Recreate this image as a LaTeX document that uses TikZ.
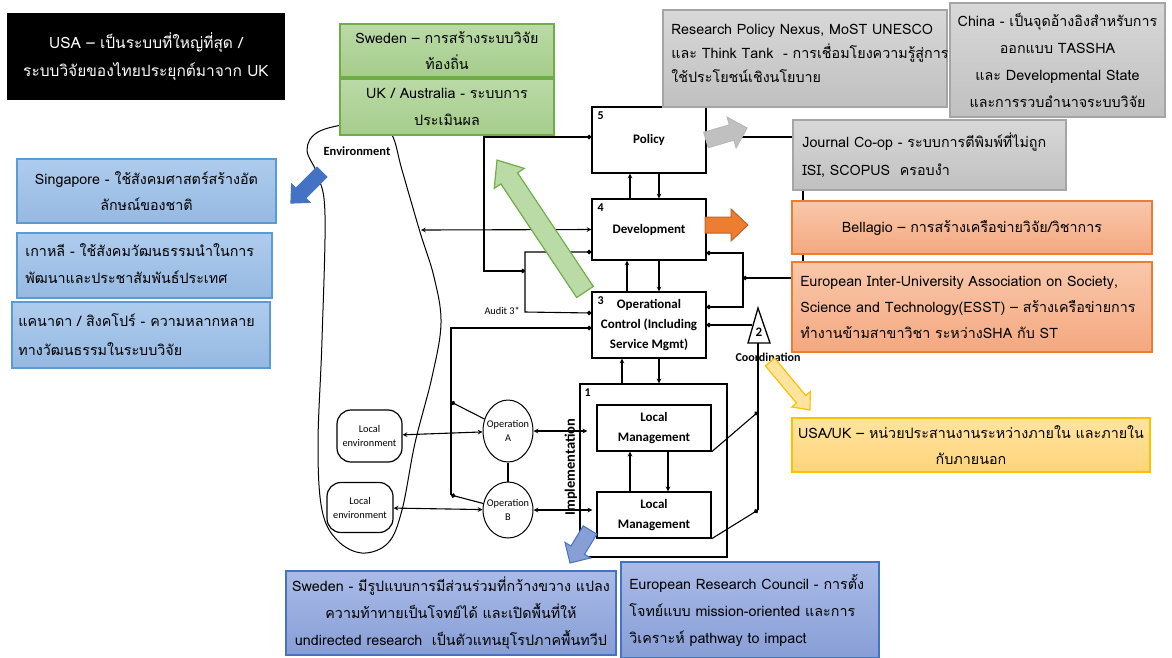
\documentclass[tikz,border=0pt]{standalone}
\usepackage{fontspec}
\newfontfamily\thaifont[Script=Thai]{Loma}
\newfontfamily\calfont{Carlito}
\usetikzlibrary{shapes.geometric,arrows.meta}

\definecolor{grnline}{RGB}{112,173,71}
\definecolor{grntop}{RGB}{186,218,166}
\definecolor{grnbot}{RGB}{166,205,140}
\definecolor{gryline}{RGB}{165,165,165}
\definecolor{grytop}{RGB}{216,216,216}
\definecolor{grybot}{RGB}{192,192,192}
\definecolor{orgline}{RGB}{237,125,49}
\definecolor{orgtop}{RGB}{249,200,170}
\definecolor{orgbot}{RGB}{244,168,128}
\definecolor{ylwline}{RGB}{255,192,0}
\definecolor{ylwtop}{RGB}{255,228,160}
\definecolor{ylwbot}{RGB}{255,212,122}
\definecolor{bluline}{RGB}{91,155,213}
\definecolor{blutop}{RGB}{174,204,237}
\definecolor{blubot}{RGB}{150,185,226}
\definecolor{indline}{RGB}{68,114,196}
\definecolor{indtop}{RGB}{170,187,231}
\definecolor{indbot}{RGB}{135,158,214}

% block arrow: style, tail, angle, length, shaft half, head half, head length
\newcommand{\fatarrow}[7]{%
  \draw[#1, shift={#2}, rotate=#3] (0,-#5) -- (#4-#7,-#5) -- (#4-#7,-#6) -- (#4,0)
    -- (#4-#7,#6) -- (#4-#7,#5) -- (0,#5) -- cycle;}

\tikzset{dot/.tip={Circle[length=4.5pt]}}

\begin{document}
\begin{tikzpicture}[x=1pt,y=-1pt,>=stealth]
  \tikzstyle{note} = [line width=1.5pt, inner sep=6pt, align=center, font=\thaifont\fontsize{14.3}{26.5}\selectfont]
  \tikzstyle{notetext} = [anchor=west, inner sep=0pt, align=left, font=\thaifont\fontsize{14.3}{26.5}\selectfont]
  \tikzstyle{blacknote} = [note, fill=black, text=white]
  \tikzstyle{greennote} = [note, draw=grnline, top color=grntop, bottom color=grnbot]
  \tikzstyle{graynote} = [note, draw=gryline, top color=grytop, bottom color=grybot]
  \tikzstyle{orangenote} = [note, draw=orgline, top color=orgtop, bottom color=orgbot]
  \tikzstyle{yellownote} = [note, draw=ylwline, top color=ylwtop, bottom color=ylwbot]
  \tikzstyle{bluenote} = [note, draw=bluline, top color=blutop, bottom color=blubot]
  \tikzstyle{indigonote} = [note, draw=indline, top color=indtop, bottom color=indbot]
  \tikzstyle{vsm} = [draw, line width=1.1pt, fill=white, align=center,
                     font=\calfont\bfseries\fontsize{13}{20}\selectfont]
  \tikzstyle{num} = [anchor=north west, inner sep=0pt, font=\calfont\bfseries\fontsize{12}{14}\selectfont]
  \tikzstyle{small} = [align=center, inner sep=1pt, font=\calfont\fontsize{10.3}{14}\selectfont]
  \tikzstyle{opn} = [draw, ellipse, line width=1pt, inner sep=0pt]
  \tikzstyle{locenv} = [draw, line width=1.2pt, rounded corners=14pt, inner sep=2pt]
  \tikzstyle{wire} = [line width=1.1pt]

  \useasboundingbox (0,0) rectangle (1172,657);

  % environment
  \draw[line width=1pt] plot[smooth cycle, tension=0.6] coordinates {
    (352,123) (318,132) (307,150) (318,176) (325,215) (322,340) (318,445) (322,510)
    (337,540) (362,553) (388,543) (402,510) (415,443) (432,377) (441,323) (434,277)
    (420,232) (402,170) (392,135) (375,121)};
  \node[font=\calfont\bfseries\fontsize{12.5}{14}\selectfont] (env) at (357,151) {Environment};
  \coordinate (envR) at (421,230);

  % system 5 .. 3
  \node[vsm, minimum width=114pt, minimum height=66pt] (pol) at (649,140) {Policy};
  \node[num] (n5) at ([shift={(6,5)}]pol.north west) {5};
  \node[vsm, minimum width=114pt, minimum height=61pt] (dev) at (649,229.5) {Development};
  \node[num] (n4) at ([shift={(6,5)}]dev.north west) {4};
  \node[vsm, minimum width=114pt, minimum height=66pt] (op3) at (649,325)
    {Operational\\Control (Including\\Service Mgmt)};
  \node[num] (n3) at ([shift={(6,5)}]op3.north west) {3};

  % system 1
  \node[draw, line width=1.4pt, minimum width=147pt, minimum height=173pt] (imp) at (653.5,470.5) {};
  \node[num] (n1) at ([shift={(5,5)}]imp.north west) {1};
  \node[vsm, line width=1.4pt, minimum width=114pt, minimum height=46pt] (lm1) at (654,428) {Local\\Management};
  \node[vsm, line width=1.4pt, minimum width=114pt, minimum height=46pt] (lm2) at (654,515) {Local\\Management};
  \node[rotate=90, font=\calfont\bfseries\fontsize{14.5}{16}\selectfont] (impl) at (571,467) {Implementation};

  \node[opn, minimum width=50pt, minimum height=62pt] (opa) at (508,431) {};
  \node[small] (opaT) at (opa) {Operation\\A};
  \node[opn, minimum width=50pt, minimum height=56pt] (opb) at (508,510) {};
  \node[small] (opbT) at (opb) {Operation\\B};
  \node[locenv, small, minimum width=65pt, minimum height=52pt] (le1) at (369.5,436) {Local\\environment};
  \node[locenv, small, minimum width=66pt, minimum height=50pt] (le2) at (360,507.5) {Local\\environment};

  % system 2
  \coordinate (triL) at (752,325);
  \draw[line width=1.3pt] (748,343) -- (758,308) -- (770,343) -- cycle;
  \node[font=\calfont\bfseries\fontsize{13}{14}\selectfont] (n2) at (759,332) {2};
  \coordinate (c1) at (758,412);
  \coordinate (c2) at (758,510);

  % connectors
  \coordinate (aud) at (525,271);
  \coordinate (jc) at (743,278);
  \coordinate (ca) at (451,402);
  \coordinate (cb) at (451,495);
  \draw[wire, dot-dot] (pol.west |- 0,137) -- (484,137) -- (484,271) -- (aud);
  \draw[wire, dot-dot] (dev.west |- 0,252) -- (525,252) -- (525,312) -- (op3.west |- 0,313);
  \node[small, anchor=east] (audit) at (521,311) {Audit 3*};
  \draw[wire, dot-dot] (dev.east |- 0,253) -- (743,253) -- (743,307) -- (op3.east |- 0,307);
  \draw[wire, dot-] (jc) -- (803,278) -- (803,137) -- (pol.east |- 0,137);
  \draw[wire, dot-] (op3.east |- 0,325) -- (triL);
  \draw[wire] (758,343) -- (c2);
  \draw[wire, -dot] (lm1.south east) -- (c1);
  \draw[wire, -dot] (lm2.south east) -- (c2);
  \draw[wire, dot-] (op3.west |- 0,328) -- (451,328) -- (cb);
  \draw[wire, dot-] (ca) -- (opa);
  \draw[wire, dot-] (cb) -- (opb);
  \draw[wire] (opa) -- (opb);
  \draw[wire, <->] (envR) -- (dev.west);
  \draw[wire, <->] (le1) -- (opa);
  \draw[wire, <->] (le2) -- (opb);
  \draw[wire, <->] (opa) -- ([xshift=-9pt]lm1.west |- opa);
  \draw[wire, <->] (opb) -- ([xshift=-4pt]lm2.west |- opb);
  \draw[wire, ->] ([xshift=-19pt]dev.north) -- ([xshift=-19pt]pol.south);
  \draw[wire, ->] ([xshift=10pt]pol.south) -- ([xshift=10pt]dev.north);
  \draw[wire, ->] ([xshift=-22pt]op3.north) -- ([xshift=-22pt]dev.south);
  \draw[wire, ->] ([xshift=10pt]dev.south) -- ([xshift=10pt]op3.north);
  \draw[wire, ->] ([xshift=-27pt]imp.north -| op3.north) -- ([xshift=-27pt]op3.south);
  \draw[wire, ->] ([xshift=10pt]op3.south) -- ([xshift=10pt]imp.north -| op3.north);
  \draw[wire, ->] ([xshift=-24pt]lm2.north) -- ([xshift=-24pt]lm1.south);
  \draw[wire, ->] ([xshift=14pt]lm1.south) -- ([xshift=14pt]lm2.north);
  \node[font=\calfont\bfseries\fontsize{12}{14}\selectfont] (coord) at (768,357) {Coordination};

  % notes
  \node[blacknote, minimum width=278pt, minimum height=87pt, font=\thaifont\fontsize{15.5}{28}\selectfont] (usa) at (146,56.5)
    {USA – เป็นระบบที่ใหญ่ที่สุด /\\ระบบวิจัยของไทยประยุกต์มาจาก UK};
  \node[greennote, minimum width=214pt, minimum height=53pt] (swe) at (447,50.5)
    {Sweden – การสร้างระบบวิจัย\\ท้องถิ่น};
  \node[greennote, minimum width=214pt, minimum height=56pt] (ukau) at (447,107)
    {UK / Australia - ระบบการ\\ประเมินผล};
  \node[graynote, minimum width=284pt, minimum height=97pt] (rpn) at (805,58.5) {};
  \node[notetext, font=\thaifont\fontsize{14.3}{24}\selectfont] (rpnT) at ([xshift=9pt,yshift=5pt]rpn.west)
    {Research Policy Nexus, MoST UNESCO\\และ Think Tank \ - การเชื่อมโยงความรู้สู่การ\\ใช้ประโยชน์เชิงนโยบาย};
  \node[graynote, minimum width=215pt, minimum height=114pt, font=\thaifont\fontsize{14.3}{27}\selectfont] (china) at (1057.5,60)
    {China - เป็นจุดอ้างอิงสำหรับการ\\ออกแบบ TASSHA\\และ Developmental State\\และการรวบอำนาจระบบวิจัย};
  \node[graynote, minimum width=273pt, minimum height=70pt] (jcoop) at (929.5,155) {};
  \node[notetext, font=\thaifont\fontsize{14.3}{27.5}\selectfont] (jcoopT) at ([xshift=10pt]jcoop.west)
    {Journal Co-op - ระบบการตีพิมพ์ที่ไม่ถูก\\ISI, SCOPUS \ ครอบงำ};
  \node[orangenote, minimum width=360pt, minimum height=53pt] (bell) at (972,227.5)
    {Bellagio – การสร้างเครือข่ายวิจัย/วิชาการ};
  \node[orangenote, minimum width=360pt, minimum height=90pt] (esst) at (972,307) {};
  \node[notetext, font=\thaifont\fontsize{14.3}{26}\selectfont] (esstT) at ([xshift=9pt]esst.west)
    {European Inter-University Association on Society,\\Science and Technology(ESST) – สร้างเครือข่ายการ\\ทำงานข้ามสาขาวิชา ระหว่างSHA กับ ST};
  \node[yellownote, minimum width=352pt, minimum height=54pt] (usauk) at (971,445)
    {USA/UK – หน่วยประสานงานระหว่างภายใน และภายใน\\กับภายนอก};
  \node[bluenote, minimum width=259pt, minimum height=64pt] (sing) at (146.5,191)
    {Singapore - ใช้สังคมศาสตร์สร้างอัต\\ลักษณ์ของชาติ};
  \node[bluenote, minimum width=255pt, minimum height=65pt] (kor) at (144.5,265.5) {};
  \node[notetext, font=\thaifont\fontsize{14.3}{27}\selectfont] (korT) at ([xshift=9pt,yshift=2pt]kor.west)
    {เกาหลี - ใช้สังคมวัฒนธรรมนำในการ\\พัฒนาและประชาสัมพันธ์ประเทศ};
  \node[bluenote, minimum width=258pt, minimum height=66pt] (can) at (141,335) {};
  \node[notetext, font=\thaifont\fontsize{14.3}{29}\selectfont] (canT) at ([xshift=7pt]can.west)
    {แคนาดา / สิงคโปร์ - ความหลากหลาย\\ทางวัฒนธรรมในระบบวิจัย};
  \node[indigonote, minimum width=330pt, minimum height=84pt, font=\thaifont\fontsize{14.3}{27}\selectfont] (swe2) at (451,613)
    {Sweden - มีรูปแบบการมีส่วนร่วมที่กว้างขวาง แปลง\\ความท้าทายเป็นโจทย์ได้ และเปิดพื้นที่ให้\\undirected research \ เป็นตัวแทนยุโรปภาคพื้นทวีป};
  \node[indigonote, minimum width=258pt, minimum height=96pt] (erc) at (750,610) {};
  \node[notetext, font=\thaifont\fontsize{14.3}{27}\selectfont] (ercT) at ([xshift=9pt]erc.west)
    {European Research Council - การตั้ง\\โจทย์แบบ mission-oriented และการ\\วิเคราะห์ pathway to impact};

  % block arrows
  \fatarrow{draw=grnline, fill=grntop, line width=1.2pt}{(585,292)}{123.7}{158.6}{10}{18}{22}
  \fatarrow{draw=gryline!80, fill=grybot, line width=1pt}{(706,140)}{16.3}{42.7}{8}{16}{16}
  \fatarrow{draw=orgline!80!black, fill=orgline, line width=1pt}{(705,225)}{0}{43}{8}{16}{17}
  \fatarrow{draw=indline, fill=indline, line width=1pt}{(322,172)}{225}{44}{7}{13}{14}
  \fatarrow{draw=indline, fill=indbot, line width=1pt}{(590,530)}{238.8}{38.6}{8}{15}{15}
  \fatarrow{draw=ylwline, fill=ylwtop, line width=1.2pt}{(770,362)}{-50.2}{62.5}{6}{12}{14}
\end{tikzpicture}
\end{document}
